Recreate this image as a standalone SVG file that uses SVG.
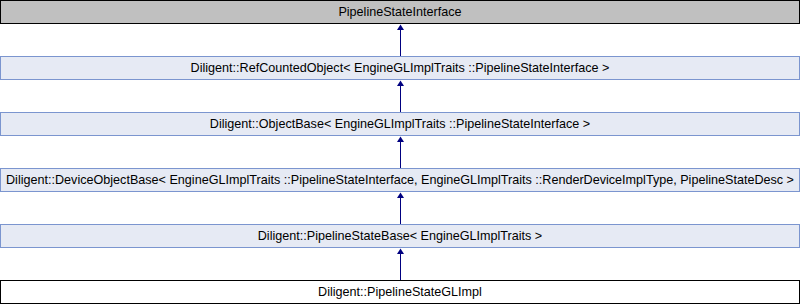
<svg xmlns="http://www.w3.org/2000/svg" width="801" height="304" viewBox="0 0 801 304">
  <style>
    .box { fill: #e6eaf4; stroke: #7b95cf; stroke-width: 1; }
    .root { fill: #c0c0c0; stroke: #000000; stroke-width: 1; }
    .leaf { fill: #ffffff; stroke: #000000; stroke-width: 1; }
    .lbl { font-family: "Liberation Sans", Arial, sans-serif; font-size: 12.6px; fill: #000000; text-anchor: middle; }
    .edge { stroke: #000080; stroke-width: 1; fill: none; }
    .head { fill: #000080; }
  </style>

  <g id="PipelineStateInterface">
    <rect class="root" x="0.5" y="0.5" width="799" height="23"/>
    <text class="lbl" x="400" y="16">PipelineStateInterface</text>
  </g>
  <g id="RefCountedObject">
    <rect class="box" x="0.5" y="56.5" width="799" height="23"/>
    <text class="lbl" x="400" y="72">Diligent::RefCountedObject&lt; EngineGLImplTraits ::PipelineStateInterface &gt;</text>
  </g>
  <g id="ObjectBase">
    <rect class="box" x="0.5" y="112.5" width="799" height="23"/>
    <text class="lbl" x="400" y="128">Diligent::ObjectBase&lt; EngineGLImplTraits ::PipelineStateInterface &gt;</text>
  </g>
  <g id="DeviceObjectBase">
    <rect class="box" x="0.5" y="168.5" width="799" height="23"/>
    <text class="lbl" x="400" y="184">Diligent::DeviceObjectBase&lt; EngineGLImplTraits ::PipelineStateInterface, EngineGLImplTraits ::RenderDeviceImplType, PipelineStateDesc &gt;</text>
  </g>
  <g id="PipelineStateBase">
    <rect class="box" x="0.5" y="224.5" width="799" height="23"/>
    <text class="lbl" x="400" y="240">Diligent::PipelineStateBase&lt; EngineGLImplTraits &gt;</text>
  </g>
  <g id="PipelineStateGLImpl">
    <rect class="leaf" x="0.5" y="280.5" width="799" height="23"/>
    <text class="lbl" x="400" y="296">Diligent::PipelineStateGLImpl</text>
  </g>

  <!-- inheritance edges: child box up to parent box, filled head at the parent -->
  <g id="connectors">
    <path class="edge" d="M400.5,56 V30"/>
    <path class="edge" d="M400.5,112 V86"/>
    <path class="edge" d="M400.5,168 V142"/>
    <path class="edge" d="M400.5,224 V198"/>
    <path class="edge" d="M400.5,280 V254"/>
    <path class="head" d="M400.5,24.5 L404,30 L397,30 Z"/>
    <path class="head" d="M400.5,80.5 L404,86 L397,86 Z"/>
    <path class="head" d="M400.5,136.5 L404,142 L397,142 Z"/>
    <path class="head" d="M400.5,192.5 L404,198 L397,198 Z"/>
    <path class="head" d="M400.5,248.5 L404,254 L397,254 Z"/>
  </g>
</svg>
